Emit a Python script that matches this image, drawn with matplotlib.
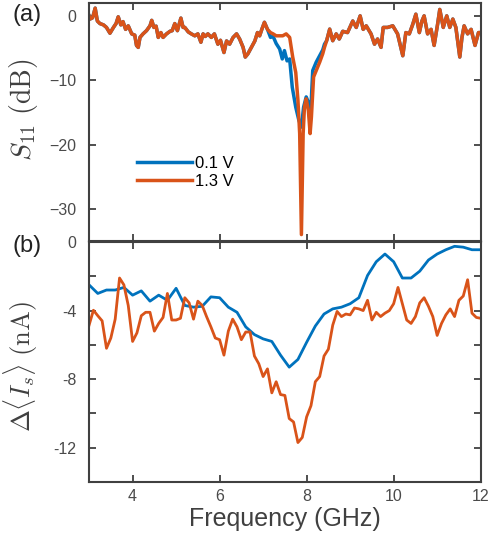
import numpy as np
import matplotlib
matplotlib.use('Agg')
import matplotlib.pyplot as plt

blue = '#0072BD'
orange = '#D95319'

# (a) S11 trace, shared part below the resonance
f_left = [3.00, 3.02, 3.08, 3.14, 3.19, 3.25, 3.33, 3.40, 3.48, 3.56, 3.62, 3.67, 3.73, 3.78,
          3.84, 3.90, 3.98, 4.05, 4.09, 4.13, 4.17, 4.24, 4.32, 4.40, 4.44, 4.49, 4.54,
          4.59, 4.65, 4.70, 4.78, 4.86, 4.91, 4.97, 5.03, 5.11, 5.16, 5.20, 5.28, 5.35,
          5.43, 5.50, 5.57, 5.62, 5.67, 5.73, 5.81, 5.88, 5.96, 6.02, 6.10, 6.16, 6.23,
          6.31, 6.39, 6.46, 6.54, 6.59, 6.65, 6.73, 6.81, 6.87, 6.92, 6.97, 7.03, 7.10]
s11_left = [0.0, -0.5, -0.3, 1.2, -0.8, -1.2, -1.4, -1.8, -2.7, -1.8, -1.2, -0.15, -1.4, -0.9,
            -2.1, -1.55, -2.8, -3.0, -4.6, -4.9, -3.35, -2.8, -2.3, -1.55, -0.7, -1.8, -1.6,
            -3.35, -2.6, -3.35, -2.8, -2.4, -2.3, -1.2, -2.3, -0.35, -1.8, -1.8, -2.5, -2.8,
            -3.1, -2.8, -4.1, -2.8, -3.2, -2.8, -3.35, -2.8, -4.4, -3.8, -5.7, -3.9, -4.4,
            -3.35, -2.8, -3.6, -4.9, -6.4, -5.9, -4.9, -3.9, -2.6, -3.1, -2.1, -1.0, -2.1]

# resonance region, 0.1 V
f_dip_01 = [7.17, 7.23, 7.30, 7.38, 7.44, 7.49, 7.55, 7.61, 7.67, 7.75, 7.82, 7.88, 7.93,
            7.99, 8.05, 8.08, 8.14, 8.22, 8.30, 8.37, 8.41, 8.46, 8.53]
s11_dip_01 = [-3.35, -3.2, -4.3, -5.15, -6.7, -5.4, -7.0, -6.7, -11.1, -14.2, -16.2, -17.3, -14.2,
              -12.6, -13.6, -17.0, -8.5, -7.2, -6.2, -5.3, -4.4, -3.86, -2.06]

# resonance region, 1.3 V
f_dip_13 = [7.17, 7.23, 7.30, 7.38, 7.45, 7.53, 7.61, 7.68, 7.75, 7.80, 7.84, 7.88, 7.92,
            7.95, 7.99, 8.04, 8.08, 8.11, 8.16, 8.22, 8.30, 8.37, 8.41, 8.46, 8.53]
s11_dip_13 = [-2.6, -2.8, -3.1, -3.1, -3.1, -2.8, -3.35, -6.4, -8.8, -13.1, -18.3, -34.0, -18.3,
              -14.2, -12.9, -14.7, -18.3, -15.7, -9.5, -8.5, -7.2, -5.9, -4.9, -3.86, -2.06]

# shared part above the resonance
f_right = [8.60, 8.68, 8.75, 8.83, 8.94, 9.06, 9.14, 9.23, 9.30, 9.37, 9.48, 9.56, 9.63, 9.71,
           9.76, 9.86, 9.98, 10.09, 10.21, 10.28, 10.36, 10.44, 10.51, 10.59, 10.65, 10.70,
           10.78, 10.86, 10.93, 11.01, 11.06, 11.14, 11.22, 11.29, 11.36, 11.43, 11.52,
           11.57, 11.62, 11.70, 11.78, 11.87, 11.95, 12.00]
s11_right = [-3.86, -2.8, -3.6, -2.4, -2.6, -0.8, -1.8, 0.0, -2.1, -1.55, -2.8, -4.4, -3.6, -4.9,
             -1.8, -1.8, -1.55, -2.8, -6.2, -2.6, -2.8, -1.3, 0.26, -2.6, -0.8, 0.0,
             -2.8, -2.1, -4.6, -1.3, 1.0, -1.8, 0.0, -1.8, -0.5, -1.8, -6.4,
             -3.35, -1.55, -2.8, -2.1, -4.6, -2.6, -2.6]

# (b) photocurrent change
f_is_01 = np.arange(3.0, 12.01, 0.2)
dis_01 = [-2.5, -3.0, -2.8, -2.8, -2.65, -3.1, -2.85, -3.45, -3.1, -3.4, -2.7, -3.7, -3.8, -3.75,
          -3.2, -3.25, -3.8, -4.1, -4.95, -5.4, -5.65, -5.8, -6.6, -7.3, -6.85, -5.85, -4.9,
          -4.2, -3.9, -3.8, -3.6, -3.25, -1.95, -1.15, -0.7, -1.15, -2.1, -2.1, -1.7, -1.05,
          -0.7, -0.45, -0.25, -0.3, -0.45, -0.45]

f_is_13 = np.arange(3.0, 12.01, 0.1)
dis_13 = [-4.85, -3.98, -4.3, -4.6, -6.2, -5.6, -4.5, -2.1, -2.5, -3.7,
          -5.8, -5.3, -4.3, -4.1, -4.1, -5.2, -4.75, -4.4, -3.0, -4.55,
          -4.55, -4.45, -3.25, -3.55, -4.5, -3.45, -3.7, -4.35, -4.95, -5.6,
          -5.7, -6.6, -5.2, -4.5, -4.95, -5.7, -5.25, -5.25, -6.65, -7.1,
          -7.85, -7.4, -8.8, -8.15, -8.9, -8.95, -10.3, -10.5, -11.7, -11.4,
          -10.2, -9.55, -8.15, -7.85, -6.65, -6.25, -4.85, -4.05, -4.35, -4.2,
          -4.25, -3.85, -3.9, -4.0, -3.4, -4.55, -4.1, -4.35, -4.15, -4.0,
          -3.6, -2.65, -3.6, -4.55, -4.75, -4.35, -3.55, -3.25, -3.75, -4.35,
          -5.45, -4.75, -4.25, -3.9, -4.35, -3.4, -3.15, -2.2, -4.15, -4.4,
          -4.45]

plt.rcParams['font.family'] = ['Liberation Sans', 'DejaVu Sans']
plt.rcParams['mathtext.fontset'] = 'cm'
axcol = '#404040'

fig = plt.figure(figsize=(4.96, 5.44), dpi=100)
ax1 = fig.add_axes([0.1796, 0.557, 0.7895, 0.4375])
ax2 = fig.add_axes([0.1796, 0.114, 0.7895, 0.4411])

f01 = f_left + f_dip_01 + f_right
y01 = s11_left + s11_dip_01 + s11_right
f13 = f_left + f_dip_13 + f_right
y13 = s11_left + s11_dip_13 + s11_right
ax1.plot(f01, y01, color=blue, lw=2.5, label='0.1 V')
ax1.plot(f13, y13, color=orange, lw=2.5, label='1.3 V')
ax1.set_xlim(3, 12)
ax1.set_ylim(-35, 2)
ax1.set_yticks([-30, -20, -10, 0])
ax1.set_xticks([4, 6, 8, 10])
ax1.set_xticklabels([])
ax1.set_ylabel(r'$S_{11}\ (\mathrm{dB})$', fontsize=20, color=axcol)
ax1.yaxis.set_label_coords(-0.125, 0.55)
ax1.legend(loc='center left', bbox_to_anchor=(0.122, 0.288), frameon=False, fontsize=12,
           handlelength=3.3, handletextpad=0.2, borderpad=0, borderaxespad=0, labelspacing=0.15)

ax2.plot(f_is_01, dis_01, color=blue, lw=2.0)
ax2.plot(f_is_13, dis_13, color=orange, lw=2.0)
ax2.set_xlim(3, 12)
ax2.set_ylim(-14, 0)
yt = np.arange(-14, 1, 2)
ax2.set_yticks(yt)
ax2.set_yticklabels([str(v) if v % 4 == 0 else '' for v in yt])
ax2.set_xticks([4, 6, 8, 10, 12])
ax2.set_xlabel('Frequency (GHz)', fontsize=18, color=axcol, labelpad=2)
ax2.set_ylabel(r'$\Delta\langle I_s\rangle\ (\mathrm{nA})$', fontsize=19, color=axcol)
ax2.yaxis.set_label_coords(-0.125, 0.48)

for ax in (ax1, ax2):
    for s in ax.spines.values():
        s.set_linewidth(1.5)
        s.set_color(axcol)
    ax.tick_params(direction='in', top=True, right=True, length=5, width=1.3,
                   color=axcol, labelcolor='#4a4a4a', labelsize=11.5, pad=5)
    ax.tick_params(axis='y', pad=9)

fig.text(0.025, 0.972, '(a)', fontsize=17, color='#222222', va='center')
fig.text(0.025, 0.548, '(b)', fontsize=17, color='#222222', va='center')

fig.savefig('out.png', dpi=100)
